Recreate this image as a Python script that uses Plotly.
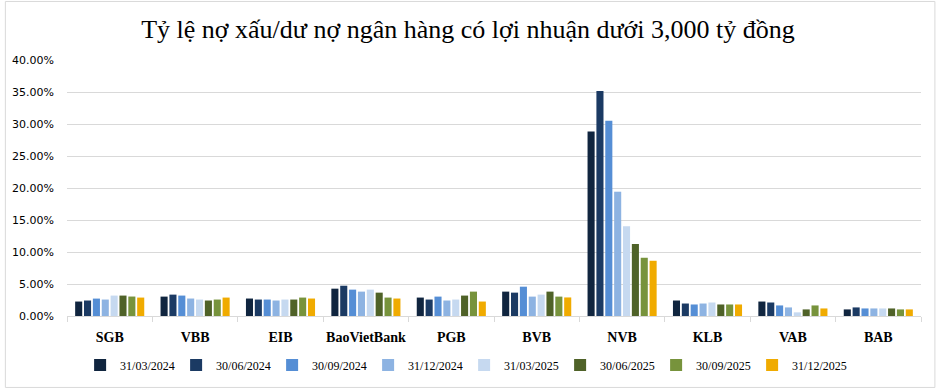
import plotly.graph_objects as go

banks = ["SGB", "VBB", "EIB", "BaoVietBank", "PGB", "BVB", "NVB", "KLB", "VAB", "BAB"]
periods = ["31/03/2024", "30/06/2024", "30/09/2024", "31/12/2024",
           "31/03/2025", "30/06/2025", "30/09/2025", "31/12/2025"]

# NPL ratio (%) per bank, one list per period
q1_2024 = [2.26, 3.03, 2.73, 4.27, 2.88, 3.81, 28.83, 2.42, 2.26, 1.03]
q2_2024 = [2.42, 3.34, 2.57, 4.73, 2.57, 3.65, 35.15, 1.95, 2.11, 1.34]
q3_2024 = [2.72, 3.19, 2.57, 4.12, 3.03, 4.58, 30.52, 1.80, 1.65, 1.18]
q4_2024 = [2.57, 2.73, 2.42, 3.81, 2.42, 3.03, 19.42, 1.95, 1.34, 1.18]
q1_2025 = [3.19, 2.57, 2.57, 4.12, 2.57, 3.34, 14.03, 2.11, 0.57, 1.18]
q2_2025 = [3.19, 2.42, 2.57, 3.65, 3.19, 3.81, 11.25, 1.80, 1.03, 1.18]
q3_2025 = [3.04, 2.57, 2.88, 2.88, 3.81, 3.03, 9.10, 1.80, 1.65, 1.03]
q4_2025 = [2.88, 2.88, 2.73, 2.73, 2.26, 2.90, 8.63, 1.80, 1.18, 1.03]

series = [q1_2024, q2_2024, q3_2024, q4_2024, q1_2025, q2_2025, q3_2025, q4_2025]
colors = ["#10253f", "#1b3a63", "#558ed5", "#8db3e2",
          "#c6d9f0", "#4f6228", "#77933c", "#f0ab00"]

y_ticks = [0, 5, 10, 15, 20, 25, 30, 35, 40]

fig = go.Figure()
for name, vals, col in zip(periods, series, colors):
    fig.add_trace(go.Bar(x=banks, y=vals, name=name, marker_color=col,
                         marker_line_width=0))

fig.update_layout(
    width=936, height=391,
    paper_bgcolor="white", plot_bgcolor="white",
    margin=dict(l=62, r=15, t=60, b=73),
    barmode="group", bargap=0.17, bargroupgap=0.2,
    title=dict(text="Tỷ lệ nợ xấu/dư nợ ngân hàng có lợi nhuận dưới 3,000 tỷ đồng",
               x=0.5, xanchor="center", y=0.925, yanchor="middle",
               font=dict(family="Liberation Serif", size=26, color="#000000")),
    font=dict(family="Liberation Serif", color="#000000"),
    legend=dict(orientation="h", x=0.465, xanchor="center", y=-0.135, yanchor="top",
                font=dict(family="Liberation Serif", size=12, color="#000000"),
                traceorder="normal", itemwidth=30,
                entrywidth=51, entrywidthmode="pixels"),
    showlegend=True,
)
fig.update_xaxes(
    type="category", showline=True, linecolor="#d9d9d9", linewidth=1,
    ticks="outside", tickson="boundaries", ticklen=5, tickcolor="#d9d9d9",
    tickangle=0, ticklabelstandoff=8,
    tickfont=dict(family="Liberation Serif", size=14, color="#000000", weight="bold"),
    showgrid=False,
)
fig.update_yaxes(
    range=[0, 40], tickvals=y_ticks, ticktext=[f"{v:.2f}%" for v in y_ticks],
    showgrid=True, gridcolor="#d9d9d9", gridwidth=1, zeroline=False,
    showline=False, ticks="", ticklabelstandoff=12,
    tickfont=dict(family="DejaVu Sans", size=11, color="#000000"),
)
fig.add_shape(type="rect", xref="paper", yref="paper", x0=-62/859, x1=1+14/859,
              y0=-72/258, y1=1+59/258, line=dict(color="#d9d9d9", width=1),
              fillcolor="rgba(0,0,0,0)", layer="below")

fig.write_html("out.html")
